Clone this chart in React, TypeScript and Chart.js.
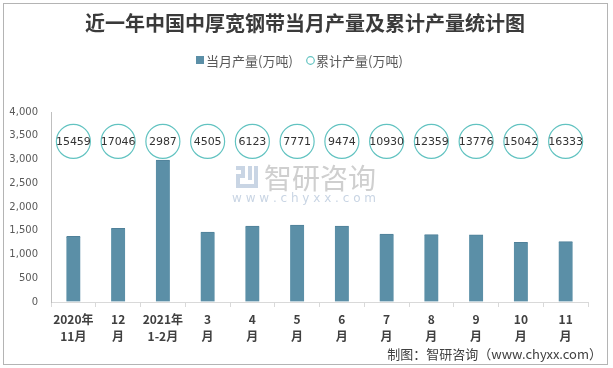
import React, { useEffect, useRef } from "react";
import { Chart, registerables } from "chart.js";

Chart.register(...registerables);

const titleText = "近一年中国中厚宽钢带当月产量及累计产量统计图";
const seriesNames = ["当月产量(万吨)", "累计产量(万吨)"];
const categories: string[][] = [
  ["2020年", "11月"],
  ["12", "月"],
  ["2021年", "1-2月"],
  ["3", "月"],
  ["4", "月"],
  ["5", "月"],
  ["6", "月"],
  ["7", "月"],
  ["8", "月"],
  ["9", "月"],
  ["10", "月"],
  ["11", "月"],
];
const monthlyOutput = [1383, 1551, 2987, 1474, 1600, 1621, 1600, 1432, 1418, 1415, 1258, 1272];
const cumulativeOutput = [15459, 17046, 2987, 4505, 6123, 7771, 9474, 10930, 12359, 13776, 15042, 16333];
const bubbleLevel = [3380, 3380, 3380, 3380, 3380, 3380, 3380, 3380, 3380, 3380, 3380, 3380];
const yMax = 4000;
const yStep = 500;
const footerText = "制图：智研咨询（www.chyxx.com）";
const watermarkText = "智研咨询";
const watermarkUrl = "w w w . c h y x x . c o m";

const BAR_COLOR = "#5b8fa7";
const RING_COLOR = "#62c3c1";
const CJK = '"Noto Sans CJK SC", "DejaVu Sans", sans-serif';

const decorPlugin = {
  id: "decor",
  beforeDraw(chart: any) {
    const ctx = chart.ctx as CanvasRenderingContext2D;
    ctx.save();
    ctx.fillStyle = "#ffffff";
    ctx.fillRect(0, 0, chart.width, chart.height);
    // outer frame
    ctx.strokeStyle = "#b4b4b4";
    ctx.lineWidth = 1;
    ctx.strokeRect(3.5, 3.5, 604, 361);
    // title
    ctx.fillStyle = "#3a3a3a";
    ctx.font = `bold 20px ${CJK}`;
    ctx.textAlign = "center";
    ctx.textBaseline = "middle";
    ctx.fillText(titleText, 305, 23);
    // legend
    ctx.font = `13px ${CJK}`;
    ctx.textAlign = "left";
    ctx.fillStyle = BAR_COLOR;
    ctx.fillRect(196, 56, 8, 8);
    ctx.fillStyle = "#595959";
    ctx.fillText(seriesNames[0], 206, 61);
    ctx.beginPath();
    ctx.arc(310.5, 60.5, 3.8, 0, Math.PI * 2);
    ctx.fillStyle = "#ffffff";
    ctx.fill();
    ctx.strokeStyle = RING_COLOR;
    ctx.lineWidth = 1.2;
    ctx.stroke();
    ctx.fillStyle = "#595959";
    ctx.fillText(seriesNames[1], 316, 61);
    // watermark
    ctx.fillStyle = "#c9d5e4";
    ctx.fillRect(236, 166, 9, 4);
    ctx.fillRect(241, 166, 4, 12);
    ctx.fillRect(236, 174, 9, 4);
    ctx.fillRect(236, 174, 4, 14);
    ctx.fillRect(236, 184, 22, 4);
    ctx.fillRect(248, 166, 4, 14);
    ctx.fillRect(254, 166, 4, 18);
    ctx.fillStyle = "#cfcfcf";
    ctx.font = `28px ${CJK}`;
    ctx.textAlign = "left";
    ctx.fillText(watermarkText, 264, 178);
    ctx.fillStyle = "#c9d5e4";
    ctx.font = `12px "DejaVu Sans", sans-serif`;
    ctx.fillText(watermarkUrl, 232, 199);
    // footer
    ctx.fillStyle = "#404040";
    ctx.font = `13px ${CJK}`;
    ctx.textAlign = "right";
    ctx.fillText(footerText, 602, 354);
    ctx.restore();
  },
  afterDatasetsDraw(chart: any) {
    const ctx = chart.ctx as CanvasRenderingContext2D;
    const meta = chart.getDatasetMeta(1);
    ctx.save();
    ctx.fillStyle = "#333333";
    ctx.font = `11px "DejaVu Sans", sans-serif`;
    ctx.textAlign = "center";
    ctx.textBaseline = "middle";
    meta.data.forEach((pt: any, i: number) => {
      ctx.fillText(String(cumulativeOutput[i]), pt.x, pt.y + 0.5);
    });
    ctx.restore();
  },
};

export default function App() {
  const ref = useRef<HTMLCanvasElement>(null);
  useEffect(() => {
    document.body.style.margin = "0";
    const canvas = ref.current!;
    const chart = new Chart(canvas, {
      type: "bar",
      data: {
        labels: categories,
        datasets: [
          {
            type: "bar",
            label: seriesNames[0],
            data: monthlyOutput,
            backgroundColor: BAR_COLOR,
            borderColor: "#4f8099",
            borderWidth: { top: 1, left: 0, right: 0, bottom: 0 },
            barThickness: 14,
            order: 2,
          } as any,
          {
            type: "line",
            label: seriesNames[1],
            data: bubbleLevel,
            showLine: false,
            pointRadius: 17,
            pointHoverRadius: 17,
            pointBackgroundColor: "rgba(255,255,255,0)",
            pointBorderColor: RING_COLOR,
            pointBorderWidth: 1.2,
            order: 1,
          } as any,
        ],
      },
      options: {
        responsive: false,
        animation: false,
        events: [],
        layout: { padding: { top: 112, right: 25, left: 0, bottom: 0 } },
        plugins: {
          legend: { display: false },
          title: { display: false },
          tooltip: { enabled: false },
        },
        scales: {
          x: {
            offset: true,
            afterFit: (s: any) => {
              s.height = 66;
            },
            grid: {
              display: true,
              offset: true,
              drawOnChartArea: false,
              drawTicks: true,
              tickLength: 5,
              color: "#d9d9d9",
            },
            border: { display: true, color: "#d9d9d9", width: 1 },
            ticks: {
              color: "#404040",
              font: { family: CJK, size: 12, weight: "bold", lineHeight: 1.4 },
              padding: 4,
              maxRotation: 0,
              autoSkip: false,
            },
          },
          y: {
            min: 0,
            max: yMax,
            afterFit: (s: any) => {
              s.width = 51;
            },
            grid: { display: true, drawOnChartArea: false, drawTicks: false },
            border: { display: true, color: "#bfbfbf", width: 1 },
            ticks: {
              stepSize: yStep,
              color: "#595959",
              font: { family: '"DejaVu Sans", sans-serif', size: 10 },
              padding: 13,
              callback: (v: any) => Number(v).toLocaleString("en-US"),
            },
          },
        },
      },
      plugins: [decorPlugin],
    });
    return () => chart.destroy();
  }, []);
  return (
    <div style={{ width: 613, height: 368 }}>
      <canvas ref={ref} width={613} height={368} style={{ display: "block" }} />
    </div>
  );
}
